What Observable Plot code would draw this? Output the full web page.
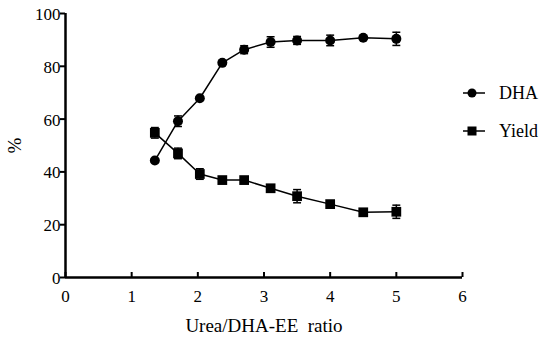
<!DOCTYPE html>
<html><head><meta charset="utf-8">
<script src="https://cdn.jsdelivr.net/npm/d3@7"></script>
<script src="https://cdn.jsdelivr.net/npm/@observablehq/plot@0.6"></script>
<style>
body{margin:0;background:#fff;}
#wrap{position:relative;width:550px;height:338px;font-family:"Liberation Serif","Times New Roman",serif;}
#legend{position:absolute;left:463px;top:74px;font-size:18px;}
#legend div{display:flex;align-items:center;height:38px;}
#legend span{margin-left:14px;}
</style></head>
<body><div id="wrap"><div id="chart"></div><div id="legend"></div></div>
<script>
const ratio = [1.35, 1.7, 2.03, 2.37, 2.7, 3.1, 3.5, 4.0, 4.5, 5.0];
const dhaValues = [44.3, 59.2, 67.9, 81.3, 86.3, 89.2, 89.8, 89.8, 90.8, 90.4];
const dhaErrors = [0.8, 2.0, 0.8, 0.8, 1.5, 2.0, 1.5, 2.0, 0.8, 2.5];
const yieldValues = [54.8, 47.0, 39.2, 36.9, 36.9, 33.8, 30.8, 27.8, 24.7, 24.9];
const yieldErrors = [2.0, 2.0, 2.0, 0.8, 0.8, 0.8, 2.5, 0.8, 0.8, 2.5];
const seriesNames = ["DHA", "Yield"];
const seriesSymbols = ["circle", "square"];
const xTicks = [0, 1, 2, 3, 4, 5, 6];
const yTicks = [0, 20, 40, 60, 80, 100];

const rows = [];
[dhaValues, yieldValues].forEach((vals, si) => {
  const errs = si === 0 ? dhaErrors : yieldErrors;
  vals.forEach((v, i) => rows.push({series: seriesNames[si], x: ratio[i], y: v, e: errs[i]}));
});
const withErr = rows.filter(d => d.e > 1);
const capW = 0.06;
const serif = '"Liberation Serif","Times New Roman",serif';

const plot = Plot.plot({
  width: 550, height: 338,
  marginLeft: 65, marginRight: 88, marginTop: 13, marginBottom: 61,
  style: {fontFamily: serif, fontSize: "17px", color: "#000", background: "#fff"},
  x: {domain: [0, 6]},
  y: {domain: [0, 100]},
  marks: [
    Plot.axisY({ticks: yTicks, tickFormat: () => "", tickSize: 5, label: null, strokeWidth: 2}),
    Plot.axisY({ticks: [], label: "%", labelAnchor: "center", labelArrow: "none", labelOffset: 58, fontSize: 19, fontFamily: serif}),
    Plot.axisX({ticks: xTicks, tickFormat: () => "", tickSize: -5, label: null, strokeWidth: 2}),
    Plot.axisX({ticks: [], label: "Urea/DHA-EE\u00a0\u00a0ratio", labelAnchor: "center", labelArrow: "none", labelOffset: 54, fontSize: 19, fontFamily: serif}),
    Plot.text(yTicks, {x: 0, y: d => d, text: d => String(d), textAnchor: "end", dx: -5, dy: 1, fontSize: 17, fontFamily: serif}),
    Plot.text(xTicks, {x: d => d, y: 0, text: d => String(d), lineAnchor: "top", dy: 12, fontSize: 17, fontFamily: serif}),
    Plot.ruleX([0], {strokeWidth: 2.5}),
    Plot.ruleY([0], {strokeWidth: 2.5}),
    Plot.ruleX(withErr, {x: "x", y1: d => d.y - d.e, y2: d => d.y + d.e, strokeWidth: 1.5}),
    Plot.link(withErr, {x1: d => d.x - capW, x2: d => d.x + capW, y1: d => d.y + d.e, y2: d => d.y + d.e, strokeWidth: 1.5}),
    Plot.link(withErr, {x1: d => d.x - capW, x2: d => d.x + capW, y1: d => d.y - d.e, y2: d => d.y - d.e, strokeWidth: 1.5}),
    Plot.line(rows, {x: "x", y: "y", z: "series", stroke: "#000", strokeWidth: 1.5}),
    Plot.dot(rows.filter(d => d.series === "DHA"), {x: "x", y: "y", symbol: "circle", r: 5, fill: "#000"}),
    Plot.dot(rows.filter(d => d.series === "Yield"), {x: "x", y: "y", symbol: "square", r: 5.5, fill: "#000"})
  ]
});
document.getElementById("chart").appendChild(plot);

const legend = document.getElementById("legend");
seriesNames.forEach((name, i) => {
  const div = document.createElement("div");
  const sym = seriesSymbols[i] === "circle"
    ? '<circle cx="9" cy="8" r="4.5" fill="#000"/>'
    : '<rect x="4.5" y="3.5" width="9" height="9" fill="#000"/>';
  div.innerHTML = `<svg width="22" height="16"><line x1="0" x2="22" y1="8" y2="8" stroke="#000" stroke-width="1.5"/>${sym}</svg><span>${name}</span>`;
  legend.appendChild(div);
});
</script>
</body></html>
